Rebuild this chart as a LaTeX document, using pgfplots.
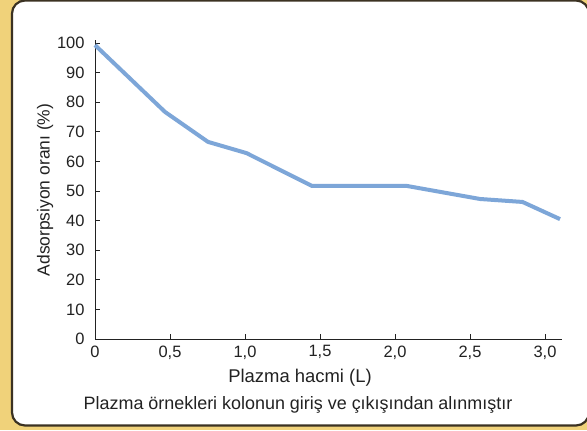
\documentclass[border=0pt]{standalone}
\usepackage{pgfplots}
\pgfplotsset{compat=1.18}
\usepackage{fontspec}
\setmainfont{Liberation Sans}
\definecolor{frameyellow}{HTML}{F0D27A}
\definecolor{framedark}{HTML}{3B3222}
\definecolor{lineblue}{HTML}{7DA6D8}
\definecolor{txt}{HTML}{222222}
\begin{document}
\begin{tikzpicture}[x=1bp,y=1bp]
\path[use as bounding box] (0,0) rectangle (587,430);
\fill[frameyellow] (0,0) rectangle (587,430);
\draw[framedark, line width=2.2bp, fill=white, rounded corners=13bp] (12,4.5) rectangle (589,429.5);
\begin{axis}[
  at={(95bp,91bp)}, anchor=origin,
  x=150bp, y=2.96bp,
  xmin=0, xmax=3.11, ymin=0, ymax=101,
  axis lines*=left,
  axis line style={txt, line width=1bp},
  tick style={txt, line width=0.8bp},
  tick align=inside,
  major tick length=5bp,
  xtick={0,0.5,1,1.5,2,2.5,3},
  xticklabels={0,{0,5},{1,0},{1,5},{2,0},{2,5},{3,0}},
  ytick={0,10,...,100},
  /pgf/number format/assume math mode=true,
  ticklabel style={font=\fontsize{16.5}{18}\selectfont, text=txt},
  yticklabel style={xshift=-7bp},
  xticklabel style={yshift=-3bp},
  clip=false,
]
\addplot[lineblue, line width=4bp, line join=round] coordinates {
  (0,99.3) (0.467,76.7) (0.753,66.6) (1.01,62.8) (1.447,51.7)
  (2.08,51.7) (2.567,47.3) (2.85,46.3) (3.1,40.5)
};
\end{axis}
\node[rotate=90, text=txt, font=\fontsize{17.5}{19}\selectfont] at (45,240) {Adsorpsiyon oranı (\%)};
\node[text=txt, font=\fontsize{18.5}{20}\selectfont] at (300,52) {Plazma hacmi (L)};
\node[text=txt, font=\fontsize{18}{20}\selectfont] at (298,25) {Plazma örnekleri kolonun giriş ve çıkışından alınmıştır};
\end{tikzpicture}
\end{document}
